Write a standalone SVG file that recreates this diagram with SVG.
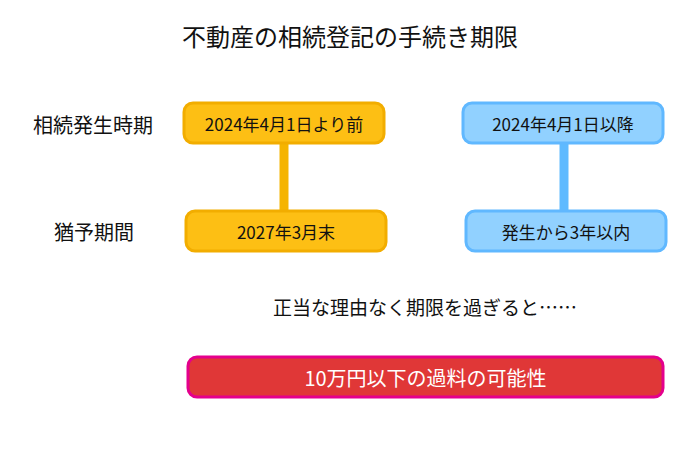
<svg xmlns="http://www.w3.org/2000/svg" width="700" height="450" viewBox="0 0 700 450">
<style>
text{font-family:"Noto Sans CJK JP","Noto Sans",sans-serif;fill:#111;text-anchor:middle;dominant-baseline:central}
.title{font-size:24px}
.lbl{font-size:20px}
.sub{font-size:19px}
.box{font-size:17px}
.big{font-size:20px;fill:#fff}
.or{fill:#fdbf14;stroke:#f2ad00;stroke-width:3}
.bl{fill:#91d1ff;stroke:#60b8ff;stroke-width:3}
.rd{fill:#e03737;stroke:#e4008c;stroke-width:3}
</style>
<rect width="700" height="450" fill="#fff"/>
<text class="title" x="350" y="35">不動産の相続登記の手続き期限</text>
<g id="label-hassei"><text class="lbl" x="93" y="124">相続発生時期</text></g>
<g id="label-yuyo"><text class="lbl" x="94" y="231">猶予期間</text></g>
<g id="connectors">
<line x1="284" y1="143" x2="284" y2="211" stroke="#f5b400" stroke-width="9"/>
<line x1="564" y1="143" x2="564" y2="211" stroke="#5fbaff" stroke-width="9"/>
</g>
<g id="before"><rect class="or" x="184" y="103" width="200" height="40" rx="9"/><text class="box" x="284" y="123">2024年4月1日より前</text></g>
<g id="deadline-old"><rect class="or" x="186" y="211" width="200" height="40" rx="9"/><text class="box" x="286" y="231">2027年3月末</text></g>
<g id="after"><rect class="bl" x="463" y="103" width="200" height="40" rx="9"/><text class="box" x="563" y="123">2024年4月1日以降</text></g>
<g id="deadline-new"><rect class="bl" x="466" y="211" width="200" height="40" rx="9"/><text class="box" x="566" y="231">発生から3年以内</text></g>
<text class="sub" x="425" y="306">正当な理由なく期限を過ぎると……</text>
<g id="penalty"><rect class="rd" x="188" y="357" width="475" height="40" rx="9"/><text class="big" x="425.5" y="377">10万円以下の過料の可能性</text></g>
</svg>
